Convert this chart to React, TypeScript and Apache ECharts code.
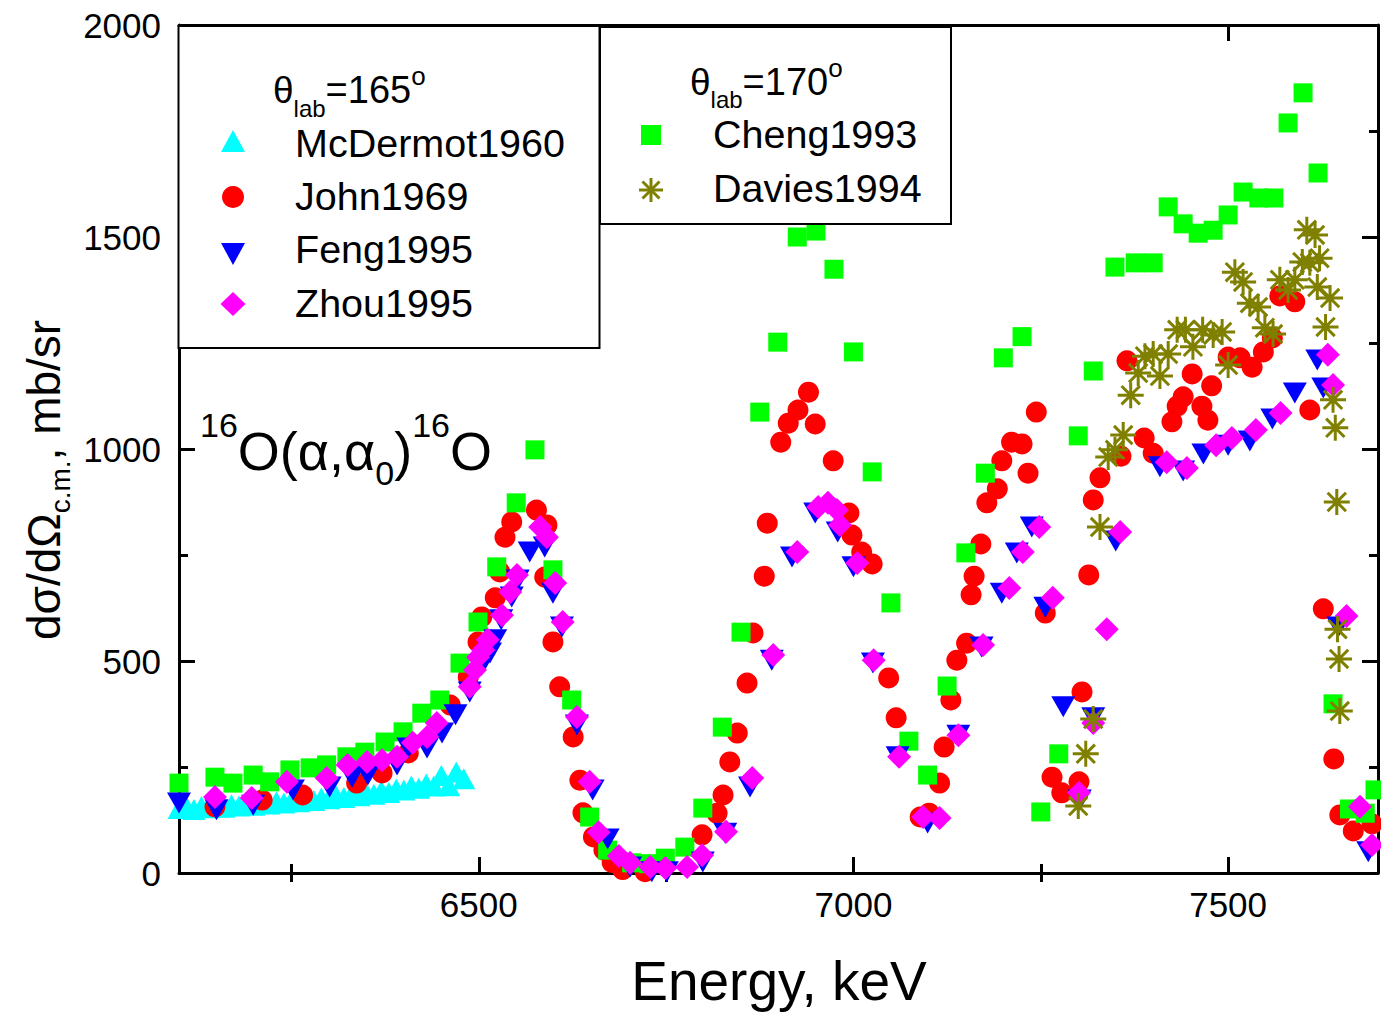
import React, { useEffect, useRef } from 'react';
import * as echarts from 'echarts';

const FONT = "'Liberation Sans', Arial, Helvetica, sans-serif";

const xMajorTicks = [6500, 7000, 7500];
const xMinorTicks = [6250, 6750, 7250];

// McDermot1960 (theta_lab = 165)
const mcdE = [6100,6110,6120,6130,6140,6150,6160,6170,6180,6190,6200,6210,6220,6230,6240,6250,6260,6270,6280,6290,6300,6310,6320,6330,6340,6350,6360,6370,6380,6390,6400,6410,6420,6430,6440,6450,6460,6470,6480];
const mcdV = [152,156,150,157,154,159,155,161,158,163,160,166,163,168,165,171,168,174,171,177,175,181,178,185,182,189,186,194,190,198,196,205,200,210,205,230,206,238,222];

// John1969
const johnE = [6148,6211,6265,6337,6371,6406,6462,6486,6499,6504,6522,6528,6535,6544,6577,6591,6588,6599,6608,6626,6635,6639,6653,6667,6678,6692,6722,6798,6818,6826,6835,6845,6858,6866,6881,6885,6903,6913,6926,6940,6949,6973,6994,6998,7011,7025,7047,7057,7089,7101,7115,7121,7130,7138,7151,7157,7161,7170,7178,7192,7198,7211,7225,7233,7244,7256,7265,7278,7301,7305,7314,7320,7329,7357,7365,7388,7400,7425,7432,7440,7452,7465,7473,7478,7500,7516,7532,7547,7559,7569,7589,7609,7627,7641,7649,7667,7692];
const johnV = [156,172,184,212,236,283,396,462,545,604,649,710,792,828,856,821,698,545,439,321,219,142,85,54,25,8,3,90,141,184,262,330,448,566,700,825,1016,1061,1092,1134,1059,972,849,797,757,729,460,366,132,141,212,297,408,502,542,656,700,776,873,906,972,1016,1012,943,1087,613,226,189,215,427,703,880,932,983,1208,1026,990,1064,1101,1123,1177,1101,1068,1149,1217,1215,1193,1229,1262,1361,1347,1092,623,269,137,99,116];

// Feng1995
const fengE = [6100,6150,6199,6252,6301,6331,6352,6391,6406,6431,6451,6469,6488,6504,6515,6522,6530,6544,6552,6568,6588,6599,6611,6631,6652,6672,6702,6731,6751,6799,6829,6862,6891,6918,6949,6979,7000,7026,7059,7099,7140,7171,7198,7218,7238,7256,7280,7302,7320,7350,7409,7440,7467,7500,7529,7559,7589,7619,7627,7647,7687];
const fengV = [165,149,160,196,203,226,231,255,295,295,330,373,427,490,519,550,597,651,691,757,769,660,580,349,196,80,14,3,3,26,94,203,502,745,849,804,722,495,274,118,325,533,660,755,816,627,392,172,366,783,958,948,988,1009,1019,1071,1132,1210,1144,580,50];

// Zhou1995
const zhouE = [6148,6197,6244,6297,6325,6351,6371,6391,6412,6431,6444,6488,6495,6499,6506,6512,6531,6542,6551,6582,6591,6602,6612,6631,6648,6660,6687,6702,6729,6749,6778,6798,6830,6865,6893,6925,6953,6966,6978,6982,7005,7027,7061,7093,7115,7140,7173,7208,7226,7248,7266,7301,7320,7338,7356,7418,7445,7484,7505,7537,7570,7633,7640,7658,7676,7692];
const zhouV = [179,177,215,224,255,262,266,274,307,321,354,439,479,509,526,550,608,663,703,816,792,684,592,368,215,96,40,24,14,12,14,42,97,224,514,757,863,873,856,821,731,502,274,132,130,325,538,672,757,816,649,189,354,575,804,969,955,1009,1026,1045,1085,1222,1151,606,156,66];

// Cheng1993 (theta_lab = 170)
const chengE = [6100,6148,6172,6199,6221,6248,6275,6297,6324,6348,6375,6399,6424,6448,6475,6499,6524,6550,6575,6599,6624,6648,6672,6704,6727,6749,6775,6799,6825,6850,6875,6899,6925,6950,6974,7000,7025,7050,7074,7099,7125,7150,7176,7200,7225,7250,7274,7300,7320,7349,7376,7400,7420,7440,7460,7480,7500,7520,7541,7561,7580,7600,7620,7640,7662,7683,7696];
const chengV = [212,226,212,231,215,243,248,255,274,285,309,333,377,408,495,592,722,873,998,715,408,132,54,24,22,35,61,153,344,568,1087,1252,1500,1514,1424,1229,946,637,311,231,441,755,943,1215,1265,144,281,1031,1184,1429,1439,1439,1571,1531,1509,1516,1552,1606,1592,1592,1769,1840,1651,399,151,141,196];

// Davies1994
const daviesE = [7300,7310,7320,7329,7340,7349,7360,7370,7380,7389,7400,7409,7420,7432,7443,7453,7466,7480,7492,7500,7509,7520,7529,7540,7549,7560,7569,7580,7589,7599,7605,7609,7616,7619,7622,7630,7636,7640,7643,7645,7646,7648,7649];
const daviesV = [158,281,363,816,981,998,1033,1127,1179,1219,1224,1172,1224,1281,1281,1241,1281,1269,1276,1198,1417,1394,1344,1335,1286,1271,1399,1375,1399,1441,1517,1439,1505,1382,1450,1288,1356,1116,1050,875,575,505,382];

const ASTERISK = 'path://M10,0L10,20M0,10L20,10M2.93,2.93L17.07,17.07M2.93,17.07L17.07,2.93';

function zip(e: number[], v: number[]) {
  return e.map((x, i) => [x, v[i]]);
}

let measureCtx: CanvasRenderingContext2D | null = null;
function textWidth(t: string, size: number) {
  if (!measureCtx) measureCtx = document.createElement('canvas').getContext('2d');
  if (!measureCtx) return t.length * size * 0.55;
  measureCtx.font = `${size}px 'Liberation Sans'`;
  return measureCtx.measureText(t).width;
}

const Z = 100;

type Piece = { t: string; s: number; dy: number };
function seq(x0: number, baseline: number, pieces: Piece[]) {
  const els: any[] = [];
  let x = x0;
  for (const p of pieces) {
    els.push({
      type: 'text',
      x,
      y: baseline + p.dy - 0.35 * p.s,
      z: Z,
      style: {
        text: p.t,
        fontSize: p.s,
        fontFamily: FONT,
        fill: '#000',
        align: 'left',
        textAlign: 'left',
        verticalAlign: 'middle',
        textVerticalAlign: 'middle',
      },
    });
    x += textWidth(p.t, p.s);
  }
  return els;
}

function legendText(x: number, baseline: number, t: string) {
  return seq(x, baseline, [{ t, s: 39.5, dy: 0 }]);
}

export default function App() {
  const ref = useRef<HTMLDivElement>(null);
  useEffect(() => {
    if (!ref.current) return;
    const chart = echarts.init(ref.current, undefined, { renderer: 'svg' });
    const axisLine = { show: true, onZero: false, lineStyle: { color: '#000', width: 3 } };
    const majorTick = (vals?: number[]) => ({
      show: true,
      inside: true,
      length: 16,
      lineStyle: { color: '#000', width: 3 },
      ...(vals ? { customValues: vals } : {}),
    });
    const minorTickAxis = (vals: number[]) => ({
      show: true,
      inside: true,
      length: 9,
      lineStyle: { color: '#000', width: 3 },
      customValues: vals,
    });
    const labelFmt = (v: number) => String(v);
    const xBase = { type: 'value', min: 6100, max: 7700, splitLine: { show: false } };
    const yBase = {
      type: 'value',
      min: 0,
      max: 2000,
      interval: 500,
      splitLine: { show: false },
      minorTick: { show: true, splitNumber: 2, length: 9, lineStyle: { color: '#000', width: 3 } },
      minorSplitLine: { show: false },
    };

    const els: any[] = [];
    // Legend boxes
    els.push({
      type: 'rect',
      z: 50,
      shape: { x: 178.5, y: 26, width: 421, height: 322 },
      style: { fill: '#fff', stroke: '#000', lineWidth: 2 },
    });
    els.push({
      type: 'rect',
      z: 50,
      shape: { x: 600, y: 27, width: 351, height: 197 },
      style: { fill: '#fff', stroke: '#000', lineWidth: 2 },
    });
    els.push(
      ...seq(273, 103, [
        { t: 'θ', s: 37, dy: 0 },
        { t: 'lab', s: 24, dy: 14 },
        { t: '=165', s: 38, dy: 0 },
        { t: 'o', s: 26, dy: -18 },
      ])
    );
    els.push(
      ...seq(690, 95, [
        { t: 'θ', s: 37, dy: 0 },
        { t: 'lab', s: 24, dy: 13 },
        { t: '=170', s: 38, dy: 0 },
        { t: 'o', s: 26, dy: -18 },
      ])
    );
    els.push(...legendText(295, 157, 'McDermot1960'));
    els.push(...legendText(295, 210, 'John1969'));
    els.push(...legendText(295, 263, 'Feng1995'));
    els.push(...legendText(295, 317, 'Zhou1995'));
    els.push(...legendText(713, 148, 'Cheng1993'));
    els.push(...legendText(713, 202, 'Davies1994'));
    // legend symbols
    const olive = { stroke: '#808000', lineWidth: 3 };
    els.push(
      { type: 'polygon', z: Z, shape: { points: [[221, 152], [245, 152], [233, 130]] }, style: { fill: '#00FFFF' } },
      { type: 'circle', z: Z, shape: { cx: 233, cy: 197, r: 11 }, style: { fill: '#FF0000' } },
      { type: 'polygon', z: Z, shape: { points: [[221, 243], [245, 243], [233, 265]] }, style: { fill: '#0000FF' } },
      { type: 'polygon', z: Z, shape: { points: [[233, 292], [245.5, 304], [233, 316], [220.5, 304]] }, style: { fill: '#FF00FF' } },
      { type: 'rect', z: Z, shape: { x: 641, y: 125, width: 20, height: 20 }, style: { fill: '#00FF00' } },
      { type: 'line', z: Z, shape: { x1: 651, y1: 178, x2: 651, y2: 202 }, style: olive },
      { type: 'line', z: Z, shape: { x1: 639, y1: 190, x2: 663, y2: 190 }, style: olive },
      { type: 'line', z: Z, shape: { x1: 642.5, y1: 181.5, x2: 659.5, y2: 198.5 }, style: olive },
      { type: 'line', z: Z, shape: { x1: 642.5, y1: 198.5, x2: 659.5, y2: 181.5 }, style: olive }
    );
    // reaction label
    els.push(
      ...seq(200, 470, [
        { t: '16', s: 34, dy: -33 },
        { t: 'O(α,α', s: 54, dy: 0 },
        { t: '0', s: 34, dy: 15 },
        { t: ')', s: 54, dy: 0 },
        { t: '16', s: 34, dy: -33 },
        { t: 'O', s: 54, dy: 0 },
      ])
    );
    // y axis title (rotated)
    els.push({
      type: 'group',
      x: 60,
      y: 640,
      rotation: Math.PI / 2,
      children: seq(0, 0, [
        { t: 'dσ/dΩ', s: 46, dy: 0 },
        { t: 'c.m.', s: 28, dy: 10 },
        { t: ', mb/sr', s: 46, dy: 0 },
      ]),
    });
    els.push({
      type: 'text',
      x: 779,
      y: 1000 - 0.35 * 55,
      z: Z,
      style: {
        text: 'Energy, keV',
        fontSize: 55,
        fontFamily: FONT,
        fill: '#000',
        align: 'center',
        textAlign: 'center',
        verticalAlign: 'middle',
        textVerticalAlign: 'middle',
      },
    });

    const option: any = {
      animation: false,
      backgroundColor: '#fff',
      grid: { left: 179, right: 3, top: 25, bottom: 140, containLabel: false },
      xAxis: [
        {
          ...xBase,
          position: 'bottom',
          axisLine,
          axisTick: majorTick(xMajorTicks),
          axisLabel: { show: true, customValues: xMajorTicks, formatter: labelFmt, fontSize: 35, fontFamily: FONT, color: '#000', margin: 14 },
        },
        {
          ...xBase,
          position: 'top',
          axisLine,
          axisTick: majorTick(xMajorTicks),
          axisLabel: { show: false },
        },
        {
          ...xBase,
          position: 'bottom',
          axisLine: { show: false },
          axisTick: minorTickAxis(xMinorTicks),
          axisLabel: { show: false },
        },
        {
          ...xBase,
          position: 'top',
          axisLine: { show: false },
          axisTick: minorTickAxis(xMinorTicks),
          axisLabel: { show: false },
        },
      ],
      yAxis: [
        {
          ...yBase,
          position: 'left',
          axisLine,
          axisTick: majorTick(),
          axisLabel: { show: true, formatter: labelFmt, fontSize: 35, fontFamily: FONT, color: '#000', margin: 18 },
        },
        {
          ...yBase,
          position: 'right',
          axisLine,
          axisTick: majorTick(),
          axisLabel: { show: false },
        },
      ],
      series: [
        {
          name: 'McDermot1960', type: 'scatter', data: zip(mcdE, mcdV),
          symbol: 'triangle', symbolSize: [23, 21], itemStyle: { color: '#00FFFF', opacity: 1 },
        },
        {
          name: 'John1969', type: 'scatter', data: zip(johnE, johnV),
          symbol: 'circle', symbolSize: 21, itemStyle: { color: '#FF0000', opacity: 1 },
        },
        {
          name: 'Cheng1993', type: 'scatter', data: zip(chengE, chengV),
          symbol: 'rect', symbolSize: 19, itemStyle: { color: '#00FF00', opacity: 1 },
        },
        {
          name: 'Feng1995', type: 'scatter', data: zip(fengE, fengV),
          symbol: 'triangle', symbolRotate: 180, symbolSize: [24, 21], itemStyle: { color: '#0000FF', opacity: 1 },
        },
        {
          name: 'Zhou1995', type: 'scatter', data: zip(zhouE, zhouV),
          symbol: 'diamond', symbolSize: [24, 24], itemStyle: { color: '#FF00FF', opacity: 1 },
        },
        {
          name: 'Davies1994', type: 'scatter', data: zip(daviesE, daviesV),
          symbol: ASTERISK, symbolSize: 26,
          itemStyle: { color: 'transparent', borderColor: '#808000', borderWidth: 3, opacity: 1 },
        },
      ],
      graphic: els,
    };
    chart.setOption(option);
    return () => chart.dispose();
  }, []);
  return (
    <div
      ref={ref}
      style={{ position: 'fixed', left: 0, top: 0, width: 1381, height: 1013, background: '#fff' }}
    />
  );
}
